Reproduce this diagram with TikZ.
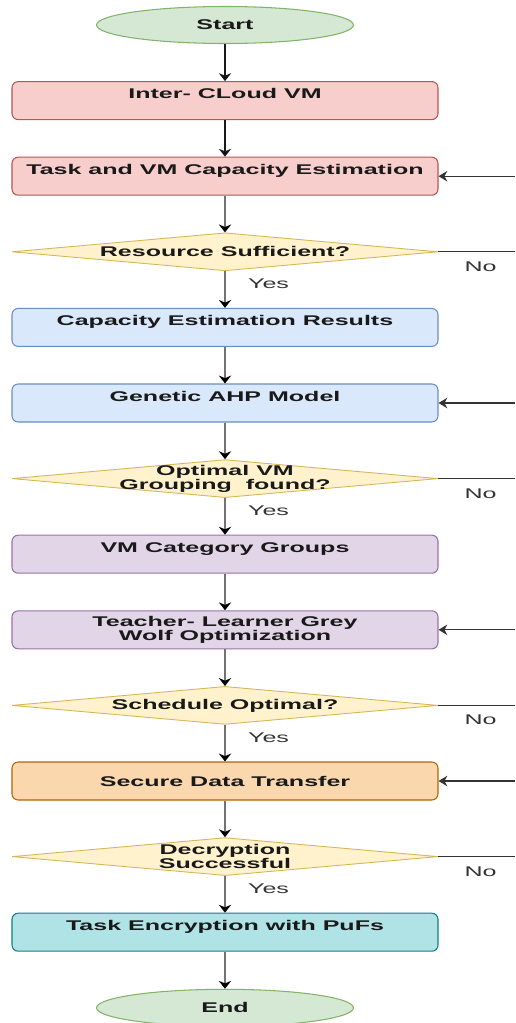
\documentclass[tikz,border=0pt]{standalone}
\usepackage{fontspec}
\newfontfamily\flowfont[FakeStretch=1.78]{Liberation Sans}
\usepackage{tikz}
\usetikzlibrary{arrows.meta}
\usetikzlibrary{shapes.geometric}
\usetikzlibrary{positioning}

\definecolor{greenfill}{HTML}{D5E8D4}
\definecolor{greenline}{HTML}{82B366}
\definecolor{redfill}{HTML}{F8CECC}
\definecolor{redline}{HTML}{B85450}
\definecolor{bluefill}{HTML}{DAE8FC}
\definecolor{blueline}{HTML}{6C8EBF}
\definecolor{purplefill}{HTML}{E1D5E7}
\definecolor{purpleline}{HTML}{9673A6}
\definecolor{orangefill}{HTML}{FAD7AC}
\definecolor{orangeline}{HTML}{B46504}
\definecolor{tealfill}{HTML}{B0E3E6}
\definecolor{tealline}{HTML}{0E8088}
\definecolor{yellowfill}{HTML}{FFF2CC}
\definecolor{yellowline}{HTML}{D6B656}

\tikzset{
  flowtext/.style={font=\flowfont\bfseries\fontsize{8}{7.9}\selectfont,
    text=black!90, align=center},
  term/.style={ellipse, draw=greenline, fill=greenfill, line width=0.6pt,
    minimum width=5.14cm, minimum height=0.74cm, inner sep=0pt, flowtext},
  stage/.style={rectangle, rounded corners=3.5pt, draw=#1line, fill=#1fill,
    line width=0.6pt, minimum width=8.52cm, minimum height=0.76cm,
    inner sep=0pt, flowtext},
  check/.style={diamond, draw=yellowline, fill=yellowfill, line width=0.5pt,
    minimum width=8.52cm, minimum height=0.76cm, inner sep=0pt},
  answer/.style={font=\flowfont\fontsize{8}{8}\selectfont, text=black!80},
  flow/.style={-{Stealth[length=4.5pt,width=7pt,black]}, draw=black!55,
    line width=1.7pt},
  thinflow/.style={-{Stealth[length=4.5pt,width=7pt]}, draw=black!90,
    line width=0.9pt},
  loopback/.style={draw=black!80, line width=0.6pt},
}

\begin{document}
\begin{tikzpicture}[node distance=1.512cm,
      on grid,
      auto]

    \useasboundingbox (0,0) rectangle (10.3,-20.46);
    \coordinate (Rim) at (10.3,0);

    \node[term]
      (Start) at (4.5,-0.5) {Start};
    \node[stage=red]
      (Inter) [below of=Start] {Inter- CLoud VM\\\mbox{}};
    \node[stage=red]
      (Estimate) [below of=Inter] {Task and VM Capacity Estimation\\\mbox{}};
    \node[check, label={[flowtext]center:Resource Sufficient?}]
      (Sufficient) [below of=Estimate] {};
    \node[stage=blue]
      (Results) [below of=Sufficient] {Capacity Estimation Results\\\mbox{}};
    \node[stage=blue]
      (Genetic) [below of=Results] {Genetic AHP Model\\\mbox{}};
    \node[check, label={[flowtext]center:Optimal VM\\Grouping\ \ found?}]
      (Grouping) [below of=Genetic] {};
    \node[stage=purple]
      (Groups) [below of=Grouping] {VM Category Groups\\\mbox{}};
    \node[stage=purple]
      (Teacher) [below of=Groups] {Teacher- Learner Grey\\Wolf Optimization};
    \node[check, label={[flowtext]center:Schedule Optimal?}]
      (Schedule) [below of=Teacher] {};
    \node[stage=orange]
      (Transfer) [below of=Schedule] {Secure Data Transfer};
    \node[check, label={[flowtext]center:Decryption\\Successful}]
      (Decrypt) [below of=Transfer] {};
    \node[stage=teal]
      (Encrypt) [below of=Decrypt] {Task Encryption with PuFs\\\mbox{}};
    \node[term]
      (End) [below of=Encrypt] {End};

    \path[thinflow]
      (Start) edge (Inter)
      (Inter) edge (Estimate);

    \path[flow]
      (Estimate) edge (Sufficient)
      (Sufficient) edge node[answer, pos=0.34, xshift=9pt] {Yes} (Results)
      (Results) edge (Genetic)
      (Genetic) edge (Grouping)
      (Grouping) edge node[answer, pos=0.34, xshift=9pt] {Yes} (Groups)
      (Groups) edge (Teacher)
      (Teacher) edge (Schedule)
      (Schedule) edge node[answer, pos=0.34, xshift=9pt] {Yes} (Transfer)
      (Transfer) edge (Decrypt)
      (Decrypt) edge node[answer, pos=0.34, xshift=9pt] {Yes} (Encrypt)
      (Encrypt) edge (End);

    % No branches leave the picture on the right
    \path[loopback]
      (Sufficient.east) edge node[answer, swap, pos=0.55, yshift=-2pt] {No} (Sufficient.east -| Rim)
      (Grouping.east) edge node[answer, swap, pos=0.55, yshift=-2pt] {No} (Grouping.east -| Rim)
      (Schedule.east) edge node[answer, swap, pos=0.55, yshift=-2pt] {No} (Schedule.east -| Rim)
      (Decrypt.east) edge node[answer, swap, pos=0.55, yshift=-2pt] {No} (Decrypt.east -| Rim);

    % and come back in from the right
    \draw[loopback, -{Stealth[length=5pt,width=6pt]}] (Estimate.east -| Rim) -- (Estimate.east);
    \draw[loopback, -{Stealth[length=5pt,width=6pt]}] (Genetic.east -| Rim) -- (Genetic.east);
    \draw[loopback, -{Stealth[length=5pt,width=6pt]}] (Teacher.east -| Rim) -- (Teacher.east);
    \draw[loopback, -{Stealth[length=5pt,width=6pt]}] (Transfer.east -| Rim) -- (Transfer.east);

  \end{tikzpicture}
\end{document}
